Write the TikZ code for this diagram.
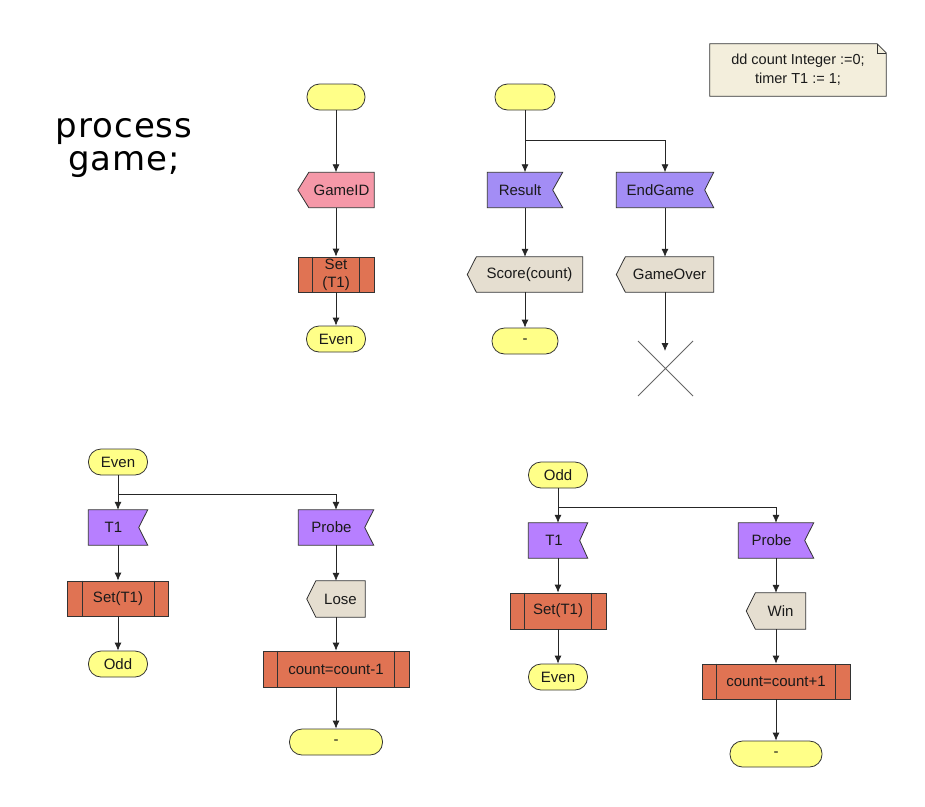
\documentclass[tikz,border=0pt]{standalone}
\usepackage{fontspec}
\setmainfont{Liberation Sans}
\newfontfamily\procfont[LetterSpace=3]{DejaVu Sans}
\usetikzlibrary{arrows.meta}
\pgfdeclarelayer{background}
\pgfsetlayers{background,main}
\definecolor{termc}{HTML}{FFFF88}
\definecolor{pinkc}{HTML}{F598A8}
\definecolor{inac}{HTML}{A38DF5}
\definecolor{inbc}{HTML}{B77FFF}
\definecolor{taskc}{HTML}{E07353}
\definecolor{outc}{HTML}{E5DED0}
\definecolor{notec}{HTML}{F3EEDC}
\definecolor{bordc}{HTML}{333333}
\definecolor{txtc}{HTML}{1A1A1A}
\newcommand\inpoly[3]{\fill[#3,draw=bordc,line width=0.8pt] (#1.north west) -- (#1.north east) -- ([xshift=-#2]#1.east) -- (#1.south east) -- (#1.south west) -- cycle;}
\newcommand\outpoly[3]{\fill[#3,draw=bordc,line width=0.8pt] ([xshift=#2]#1.north west) -- (#1.north east) -- (#1.south east) -- ([xshift=#2]#1.south west) -- (#1.west) -- cycle;}
\tikzset{
  every node/.style={font=\fontsize{15}{18}\selectfont, text=txtc, inner sep=0pt},
  term/.style={draw=bordc, fill=termc, line width=0.8pt, minimum height=26, rounded corners=12.5pt},
  sigbox/.style={minimum height=35},
  taskbox/.style={draw=bordc, fill=taskc, line width=0.8pt, minimum height=35,
    append after command={([xshift=15pt]\tikzlastnode.north west) edge[bordc,line width=0.8pt] ([xshift=15pt]\tikzlastnode.south west)
      ([xshift=-15pt]\tikzlastnode.north east) edge[bordc,line width=0.8pt] ([xshift=-15pt]\tikzlastnode.south east)}},
  arr/.style={draw=black!85, line width=0.8pt, -{Latex[length=8pt,width=7pt]}},
  ln/.style={draw=black!85, line width=0.8pt}
}
\begin{document}
\begin{tikzpicture}[x=1pt,y=-1pt]
\useasboundingbox (0,0) rectangle (925,806);

% title
\node[font=\procfont\fontsize{34}{33}\selectfont, align=center, text=black] (title) at (124,148) {process\\game;};

% note
\node[minimum width=176, minimum height=52, align=center, font=\fontsize{14.5}{19}\selectfont] (note) at (798,70) {dd count Integer :=0;\\timer T1 := 1;};

% top-left column
\node[term, minimum width=58] (s1) at (336,97) {};
\node[sigbox, minimum width=76] (gid) at (336,190) {\hspace*{11pt}GameID};
\node[taskbox, minimum width=76, align=center] (set1) at (336,274.5) {Set\\(T1)};
\node[term, minimum width=59] (even1) at (336,339) {Even};

% top-middle
\node[term, minimum width=60] (s2) at (525,97) {};
\coordinate (b2) at (525,140);
\node[sigbox, minimum width=75] (res) at (525,190) {Result\hspace*{10pt}};
\node[sigbox, minimum width=97] (endg) at (665,190) {EndGame\hspace*{9pt}};
\node[sigbox, minimum width=115] (score) at (525,274.5) {\hspace*{9pt}Score(count)};
\node[sigbox, minimum width=97] (gover) at (665,274.5) {\hspace*{9pt}GameOver};
\node[term, minimum width=66] (dash1) at (525,341) {-};
\coordinate (stop) at (665.5,368.5);
\coordinate (stoptip) at (665,351);

% bottom-left
\node[term, minimum width=59] (even2) at (118,462) {Even};
\coordinate (b3) at (118,494);
\node[sigbox, minimum width=59] (t1a) at (118,527.5) {T1\hspace*{9pt}};
\node[sigbox, minimum width=75] (probea) at (336,527.5) {Probe\hspace*{9pt}};
\node[taskbox, minimum width=101] (seta) at (118,598.5) {Set(T1)};
\node[term, minimum width=59] (odda) at (118,664) {Odd};
\node[sigbox, minimum width=58, minimum height=36] (lose) at (336,599) {\hspace*{9pt}Lose};
\node[taskbox, minimum width=146, minimum height=36] (countm) at (336,669) {count=count-1};
\node[term, minimum width=93] (dasha) at (336,742) {-};

% bottom-right
\node[term, minimum width=59] (odd2) at (558,475) {Odd};
\coordinate (b4) at (558,507);
\node[sigbox, minimum width=59] (t1b) at (558,540.5) {T1\hspace*{8pt}};
\node[sigbox, minimum width=75] (probeb) at (776,540.5) {Probe\hspace*{9pt}};
\node[taskbox, minimum width=96, minimum height=36] (setb) at (558,611) {Set(T1)};
\node[term, minimum width=59] (evenb) at (558,677) {Even};
\node[sigbox, minimum width=59, minimum height=36] (win) at (776,611) {\hspace*{9pt}Win};
\node[taskbox, minimum width=148] (countp) at (776,681.5) {count=count+1};
\node[term, minimum width=92] (dashb) at (776,754) {-};

% background shapes
\begin{pgfonlayer}{background}
\fill[white] (0,0) rectangle (925,806);
\fill[notec,draw=bordc,line width=0.8pt] (note.north west) -- ([xshift=-9pt]note.north east) -- ([yshift=-9pt]note.north east) -- (note.south east) -- (note.south west) -- cycle;
\draw[bordc,line width=0.6pt] ([xshift=-9pt]note.north east) -- ([xshift=-9pt,yshift=-9pt]note.north east) -- ([yshift=-9pt]note.north east);
\outpoly{gid}{11pt}{pinkc}
\inpoly{res}{10pt}{inac}
\inpoly{endg}{9pt}{inac}
\outpoly{score}{9pt}{outc}
\outpoly{gover}{9pt}{outc}
\inpoly{t1a}{9pt}{inbc}
\inpoly{probea}{9pt}{inbc}
\outpoly{lose}{9pt}{outc}
\inpoly{t1b}{8pt}{inbc}
\inpoly{probeb}{9pt}{inbc}
\outpoly{win}{9pt}{outc}
\end{pgfonlayer}

% stop cross
\draw[black!60, line width=0.8pt] ([shift={(-27.5,-27.5)}]stop) -- ([shift={(27.5,27.5)}]stop)
  ([shift={(-27.5,27.5)}]stop) -- ([shift={(27.5,-27.5)}]stop);

% connectors top-left
\draw[arr] (s1) -- (gid);
\draw[arr] (gid) -- (set1);
\draw[arr] (set1) -- (even1);

% connectors top-middle
\draw[ln] (s2) -- (b2);
\draw[arr] (b2) -- (res);
\draw[arr] (b2) -| (endg);
\draw[arr] (res) -- (score);
\draw[arr] (score) -- (dash1);
\draw[arr] (endg) -- (gover);
\draw[arr] (gover) -- (stoptip);

% connectors bottom-left
\draw[ln] (even2) -- (b3);
\draw[arr] (b3) -- (t1a);
\draw[arr] (b3) -| (probea);
\draw[arr] (t1a) -- (seta);
\draw[arr] (seta) -- (odda);
\draw[arr] (probea) -- (lose);
\draw[arr] (lose) -- (countm);
\draw[arr] (countm) -- (dasha);

% connectors bottom-right
\draw[ln] (odd2) -- (b4);
\draw[arr] (b4) -- (t1b);
\draw[arr] (b4) -| (probeb);
\draw[arr] (t1b) -- (setb);
\draw[arr] (setb) -- (evenb);
\draw[arr] (probeb) -- (win);
\draw[arr] (win) -- (countp);
\draw[arr] (countp) -- (dashb);
\end{tikzpicture}
\end{document}
